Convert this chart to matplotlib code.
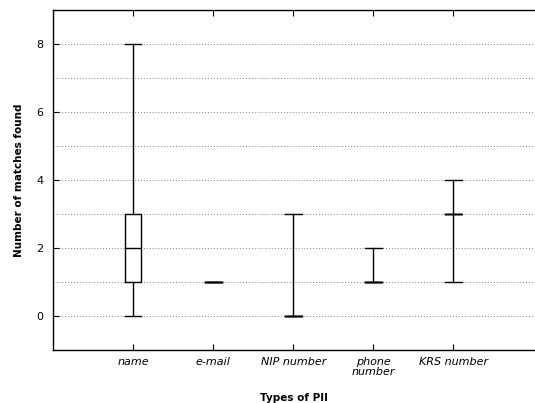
import matplotlib
matplotlib.use("Agg")
import matplotlib.pyplot as plt
from matplotlib.ticker import MultipleLocator

categories = ["name", "e-mail", "NIP number", "phone\nnumber", "KRS number"]
whisker_low = [0, 1, 0, 1, 1]
q1 = [1, 1, 0, 1, 3]
median = [2, 1, 0, 1, 3]
q3 = [3, 1, 0, 1, 3]
whisker_high = [8, 1, 3, 2, 4]

stats = []
for i, c in enumerate(categories):
    stats.append(dict(label=c, whislo=whisker_low[i], q1=q1[i], med=median[i],
                      q3=q3[i], whishi=whisker_high[i], fliers=[]))

fig = plt.figure(figsize=(5.35, 4.03), dpi=100)
ax = fig.add_axes([53/535, 1 - 350/403, 1 - 53/535, (350 - 10)/403])

positions = list(range(1, len(categories) + 1))
lp = dict(color="black", linewidth=1.0)
ax.bxp(stats, positions=positions, widths=0.21, showfliers=False,
       boxprops=lp, whiskerprops=lp, capprops=lp,
       medianprops=dict(color="black", linewidth=1.0), capwidths=0.21)

ax.set_xlim(0, 6.02)
ax.set_ylim(-1, 9)
ax.set_xticks(positions)
ax.set_xticklabels(categories, fontstyle="italic", fontsize=8, linespacing=0.95)
ax.yaxis.set_major_locator(MultipleLocator(2))
ax.yaxis.set_minor_locator(MultipleLocator(1))
ax.tick_params(axis="y", which="major", direction="in", length=4, labelsize=8, pad=7)
ax.tick_params(axis="y", which="minor", length=0)
ax.tick_params(axis="x", direction="in", length=4, top=True, labelsize=8, pad=5)
ax.grid(True, which="both", axis="y", linestyle=(0, (1, 2)), color="gray", linewidth=0.7)
ax.set_axisbelow(True)
ax.spines["right"].set_visible(False)
for s in ["left", "bottom", "top"]:
    ax.spines[s].set_linewidth(1.0)

ax.set_ylabel("Number of matches found", fontsize=7.5, fontweight="bold", labelpad=9)
ax.set_xlabel("Types of PII", fontsize=7.5, fontweight="bold", labelpad=12)

fig.savefig("out.png", dpi=100)
